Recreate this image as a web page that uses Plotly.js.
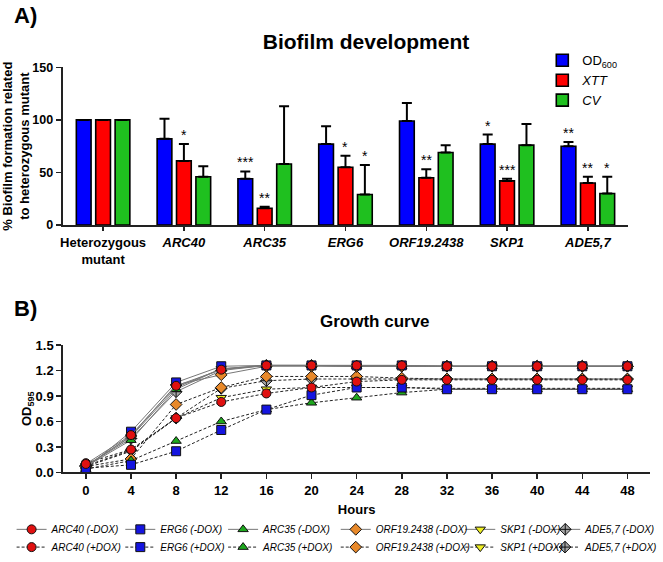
<!DOCTYPE html>
<html>
<head>
<meta charset="utf-8">
<script src="https://cdn.plot.ly/plotly-3.0.1.min.js"></script>
<style>html,body{margin:0;padding:0;background:#fff;}#chart{width:663px;height:562px;}</style>
</head>
<body>
<div id="chart"></div>
<script>
// ---------- Panel A data: biofilm development ----------
const categories = ["Heterozygous mutant", "ARC40", "ARC35", "ERG6", "ORF19.2438", "SKP1", "ADE5,7"];
const categoryLabels = ["<b>Heterozygous</b><br><b>mutant</b>", "<b><i>ARC40</i></b>", "<b><i>ARC35</i></b>", "<b><i>ERG6</i></b>", "<b><i>ORF19.2438</i></b>", "<b><i>SKP1</i></b>", "<b><i>ADE5,7</i></b>"];
const od600 = [100, 82, 44, 77, 99, 77, 75];
const od600Err = [null, 19, 7, 17, 17, 9, 4];
const xtt = [100, 61, 16, 55, 45, 42, 40];
const xttErr = [null, 16, 1.5, 11, 8, 2, 6];
const cv = [100, 46, 58, 29, 69, 76, 30];
const cvErr = [null, 10, 55, 28, 7, 20, 16];
const noErrDown = [0, 0, 0, 0, 0, 0, 0];
const seriesNames = ["OD<sub>600</sub>", "<i>XTT</i>", "<i>CV</i>"];
// significance marks: [category index, series index (0 OD600, 1 XTT, 2 CV), label]
const stars = [
  [1, 1, "*"],
  [2, 0, "***"], [2, 1, "**"],
  [3, 1, "*"], [3, 2, "*"],
  [4, 1, "**"],
  [5, 0, "*"], [5, 1, "***"],
  [6, 0, "**"], [6, 1, "**"], [6, 2, "*"]
];

// ---------- Panel B data: growth curve (OD595) ----------
const hours = [0, 4, 8, 12, 16, 20, 24, 28, 32, 36, 40, 44, 48];
const arc40Minus = [0.10, 0.44, 1.02, 1.21, 1.26, 1.26, 1.26, 1.26, 1.25, 1.25, 1.25, 1.25, 1.25];
const arc40Plus  = [0.11, 0.27, 0.64, 0.83, 0.93, 1.00, 1.07, 1.09, 1.09, 1.09, 1.09, 1.09, 1.09];
const erg6Minus  = [0.05, 0.48, 1.06, 1.25, 1.26, 1.26, 1.26, 1.26, 1.25, 1.25, 1.25, 1.25, 1.25];
const erg6Plus   = [0.05, 0.09, 0.25, 0.50, 0.74, 0.91, 1.00, 1.00, 0.98, 0.98, 0.98, 0.98, 0.98];
const arc35Minus = [0.07, 0.38, 0.98, 1.22, 1.26, 1.26, 1.25, 1.25, 1.25, 1.25, 1.25, 1.25, 1.25];
const arc35Plus  = [0.04, 0.14, 0.37, 0.60, 0.74, 0.82, 0.88, 0.94, 0.98, 0.98, 0.98, 0.98, 0.98];
const orfMinus   = [0.07, 0.43, 1.03, 1.15, 1.25, 1.25, 1.25, 1.25, 1.25, 1.25, 1.25, 1.25, 1.25];
const orfPlus    = [0.07, 0.16, 0.80, 1.00, 1.13, 1.13, 1.13, 1.11, 1.10, 1.10, 1.10, 1.10, 1.10];
const skp1Minus  = [0.08, 0.42, 1.00, 1.22, 1.26, 1.26, 1.25, 1.25, 1.25, 1.25, 1.25, 1.25, 1.25];
const skp1Plus   = [0.07, 0.25, 0.64, 0.88, 0.98, 1.00, 1.00, 1.00, 0.99, 0.99, 0.99, 0.99, 0.99];
const adeMinus   = [0.08, 0.40, 0.95, 1.20, 1.26, 1.26, 1.25, 1.25, 1.25, 1.25, 1.25, 1.25, 1.25];
const adePlus    = [0.08, 0.26, 0.64, 0.99, 1.08, 1.10, 1.10, 1.10, 1.10, 1.10, 1.10, 1.10, 1.10];
const strainNames = ["ARC40", "ERG6", "ARC35", "ORF19.2438", "SKP1", "ADE5,7"];
const hourTicks = [0, 4, 8, 12, 16, 20, 24, 28, 32, 36, 40, 44, 48];

// ---------- styling ----------
const FONT = "Liberation Sans, Arial, sans-serif";
const W = 663, H = 562, ML = 62, MR = 5;
const PW = W - ML - MR;
const px = v => (v - ML) / PW;      // page pixel -> paper fraction (x)
const py = v => 1 - v / H;          // page pixel -> paper fraction (y)

// narrow font for the growth-curve legend if it is installed
function fontInstalled(name) {
  const c = document.createElement("canvas").getContext("2d");
  const s = "ORF19.2438 (-DOX) mmmWW";
  c.font = "italic 40px monospace";
  const w0 = c.measureText(s).width;
  c.font = "italic 40px '" + name + "', monospace";
  return Math.abs(c.measureText(s).width - w0) > 0.5;
}
const hasNarrow = fontInstalled("Liberation Sans Narrow");
const legFont = hasNarrow ? {family: "Liberation Sans Narrow, Liberation Sans, sans-serif", size: 11.5, color: "#000"}
                          : {family: FONT, size: 10, color: "#000"};

const barColors = ["#0000ff", "#ff0000", "#1fc01f"];
const barVals = [od600, xtt, cv];
const barErrs = [od600Err, xttErr, cvErr];
const bargap = 0.28;

const traces = [];
for (let s = 0; s < 3; s++) {
  traces.push({
    type: "bar", x: categories, y: barVals[s], name: seriesNames[s],
    xaxis: "x", yaxis: "y", legend: "legend",
    marker: {color: barColors[s], line: {color: "#000", width: 1.6}},
    error_y: {type: "data", symmetric: false, array: barErrs[s], arrayminus: noErrDown,
              color: "#000", thickness: 2, width: 5},
    hoverinfo: "y"
  });
}

const strainStyle = [
  {data: [arc40Minus, arc40Plus], symbol: "circle", color: "#e01010"},
  {data: [erg6Minus, erg6Plus], symbol: "square", color: "#1515e0"},
  {data: [arc35Minus, arc35Plus], symbol: "triangle-up", color: "#1ea81e"},
  {data: [orfMinus, orfPlus], symbol: "diamond", color: "#e8892a"},
  {data: [skp1Minus, skp1Plus], symbol: "triangle-down", color: "#eeee22"},
  {data: [adeMinus, adePlus], symbol: "diamond-cross", color: "#a8a8a8"}
];
const legendLeft = [11, 121, 225, 339, 465, 551];   // page px of each legend entry
const legendRowY = [537, 555];                       // -DOX row, +DOX row
const drawOrder = [5, 4, 3, 2, 1, 0];

const layoutLegends = {};
for (const dox of [1, 0]) {
  for (const i of drawOrder) {
    const st = strainStyle[i];
    const lname = "legend" + (2 + i + 6 * dox);
    layoutLegends[lname] = {
      x: px(legendLeft[i]), y: py(legendRowY[dox]), xanchor: "left", yanchor: "middle",
      orientation: "h", bgcolor: "rgba(0,0,0,0)", borderwidth: 0, font: legFont
    };
    traces.push({
      type: "scatter", mode: "lines+markers",
      x: hours, y: st.data[dox],
      name: "<i>" + strainNames[i] + (dox === 0 ? " (-DOX)" : " (+DOX)") + "</i>",
      xaxis: "x2", yaxis: "y2", legend: lname,
      line: dox === 0 ? {color: "#777", width: 1} : {color: "#222", width: 1, dash: "3px,2px"},
      marker: {symbol: st.symbol, size: 9, color: st.color, line: {color: "#111", width: 1}}
    });
  }
}

const annotations = [];
const slot = (1 - bargap) / 3;
for (const [ci, si, lab] of stars) {
  const top = barVals[si][ci] + (barErrs[si][ci] || 0);
  annotations.push({
    xref: "x", yref: "y", x: ci + (si - 1) * slot, y: top, text: lab,
    showarrow: false, yanchor: "middle", yshift: 9,
    font: {family: FONT, size: 14, color: "#000"}
  });
}
annotations.push({xref: "paper", yref: "paper", x: px(11), y: py(16), xanchor: "left", yanchor: "middle",
  text: "<b>A)</b>", showarrow: false, font: {family: FONT, size: 22, color: "#000"}});
annotations.push({xref: "paper", yref: "paper", x: px(11), y: py(313), xanchor: "left", yanchor: "middle",
  text: "<b>B)</b>", showarrow: false, font: {family: FONT, size: 22, color: "#000"}});
annotations.push({xref: "paper", yref: "paper", x: px(379), y: py(326), xanchor: "center", yanchor: "middle",
  text: "<b>Growth curve</b>", showarrow: false, font: {family: FONT, size: 17, color: "#000"}});

const axisCommon = {
  showgrid: false, zeroline: false, showline: true, linecolor: "#222", linewidth: 2,
  ticks: "outside", tickcolor: "#222", tickwidth: 1.5, ticklen: 5,
  tickfont: {family: FONT, size: 13, color: "#000", weight: "bold"},
  automargin: false, fixedrange: true
};

const layout = Object.assign({
  width: W, height: H,
  margin: {l: ML, r: MR, t: 0, b: 0},
  paper_bgcolor: "#fff", plot_bgcolor: "rgba(0,0,0,0)",
  font: {family: FONT, color: "#000"},
  title: {text: "<b>Biofilm development</b>", x: 366 / W, xanchor: "center", y: py(42), yanchor: "middle",
          xref: "container", yref: "container", font: {family: FONT, size: 21, color: "#000"}},
  barmode: "group", bargap: bargap, bargroupgap: 0.24,
  showlegend: true,
  xaxis: Object.assign({}, axisCommon, {
    domain: [px(62.7), px(635)], anchor: "y", type: "category", range: [-0.5, 6.5],
    tickmode: "array", tickvals: categories, ticktext: categoryLabels, ticklen: 4
  }),
  yaxis: Object.assign({}, axisCommon, {
    domain: [py(228.3), py(68.3)], anchor: "x", range: [0, 150],
    tickvals: [0, 50, 100, 150], tickfont: {family: FONT, size: 12.5, color: "#000", weight: "bold"},
    title: {text: "<b>% Biofilm formation related<br>to heterozygous mutant</b>", standoff: 3,
            font: {family: FONT, size: 13, color: "#000"}}
  }),
  xaxis2: Object.assign({}, axisCommon, {
    domain: [px(63.3), px(657)], anchor: "y2", range: [-2, 50],
    tickvals: hourTicks,
    title: {text: "<b>Hours</b>", standoff: 8, font: {family: FONT, size: 13, color: "#000"}}
  }),
  yaxis2: Object.assign({}, axisCommon, {
    domain: [py(479.3), py(350)], anchor: "x2", range: [0, 1.5],
    tickvals: [0, 0.3, 0.6, 0.9, 1.2, 1.5], tickformat: ".1f",
    title: {text: "<b>OD<sub>595</sub></b>", standoff: 0, font: {family: FONT, size: 13, color: "#000"}}
  }),
  legend: {x: px(548), y: py(46), xanchor: "left", yanchor: "top", orientation: "v",
           bgcolor: "rgba(0,0,0,0)", font: {family: FONT, size: 13, color: "#000"}, tracegroupgap: 0},
  annotations: annotations
}, layoutLegends);

Plotly.newPlot("chart", traces, layout, {displayModeBar: false, staticPlot: true});
</script>
</body>
</html>
